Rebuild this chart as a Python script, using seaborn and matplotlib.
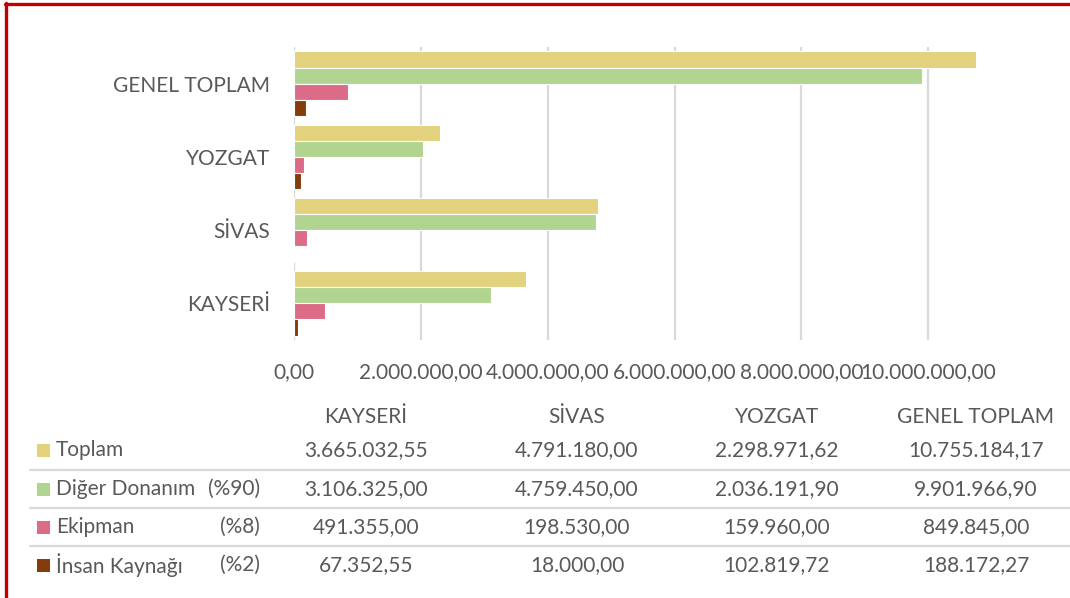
import pandas as pd
import seaborn as sns
import matplotlib.pyplot as plt
from matplotlib.lines import Line2D
from matplotlib.patches import Rectangle

bolgeler = ["KAYSERİ", "SİVAS", "YOZGAT", "GENEL TOPLAM"]
seriler = ["Toplam", "Diğer Donanım", "Ekipman", "İnsan Kaynağı"]
oranlar = ["", "(%90)", "(%8)", "(%2)"]
toplam = [3665032.55, 4791180.00, 2298971.62, 10755184.17]
diger_donanim = [3106325.00, 4759450.00, 2036191.90, 9901966.90]
ekipman = [491355.00, 198530.00, 159960.00, 849845.00]
insan_kaynagi = [67352.55, 18000.00, 102819.72, 188172.27]
x_ticks = [0, 2000000, 4000000, 6000000, 8000000, 10000000]

renkler = ["#E2D17D", "#B1D590", "#DC6B87", "#843C0C"]
yazi_rengi = "#595959"
cizgi_rengi = "#D9D9D9"

sns.set_theme(style="white")
plt.rcParams["font.family"] = ["Lato", "DejaVu Sans"]


def tr_format(v):
    # 1234567.5 -> 1.234.567,50
    s = f"{v:,.2f}"
    return s.replace(",", "#").replace(".", ",").replace("#", ".")


# long form table for seaborn
degerler = [toplam, diger_donanim, ekipman, insan_kaynagi]
rows = []
for seri, vals in zip(seriler, degerler):
    for b, v in zip(bolgeler, vals):
        rows.append({"bolge": b, "seri": seri, "deger": v})
df = pd.DataFrame(rows)

W, H = 1070, 598
fig = plt.figure(figsize=(W / 100, H / 100), dpi=100)


def fx(px):
    return px / W


def fy(py):
    return 1 - py / H


ax = fig.add_axes([fx(294), fy(340), fx(1055) - fx(294), fy(47) - fy(340)])

sns.barplot(data=df, x="deger", y="bolge", hue="seri", orient="h",
            order=bolgeler[::-1], hue_order=seriler, palette=renkler,
            saturation=1, width=0.88, edgecolor="white", linewidth=0.8,
            legend=False, ax=ax)

ax.set_xlim(0, 12000000)
ax.set_xticks(x_ticks)
ax.set_xticklabels([tr_format(t) for t in x_ticks])
ax.xaxis.grid(True, color=cizgi_rengi, linewidth=1.6)
ax.set_axisbelow(True)
for s in ax.spines.values():
    s.set_visible(False)
ax.tick_params(axis="x", length=0, pad=16, labelsize=15, labelcolor=yazi_rengi)
ax.tick_params(axis="y", length=0, pad=17, labelsize=15, labelcolor=yazi_rengi)
ax.set_xlabel("")
ax.set_ylabel("")

# data table below the chart
kolon_x = [366, 577, 777, 976]
satir_y = [450, 489, 527, 565]
for b, cx in zip(bolgeler, kolon_x):
    fig.text(fx(cx), fy(417), b, ha="center", va="center", fontsize=15, color=yazi_rengi)

for i, (seri, oran, vals) in enumerate(zip(seriler, oranlar, degerler)):
    y = satir_y[i]
    fig.add_artist(Rectangle((fx(37), fy(y + 6.5)), fx(13), 13 / H,
                             facecolor=renkler[i], edgecolor="none",
                             transform=fig.transFigure))
    fig.text(fx(56), fy(y), seri, ha="left", va="center", fontsize=15, color=yazi_rengi)
    if oran:
        fig.text(fx(260), fy(y), oran, ha="right", va="center", fontsize=15, color=yazi_rengi)
    for v, cx in zip(vals, kolon_x):
        fig.text(fx(cx), fy(y), tr_format(v), ha="center", va="center",
                 fontsize=15, color=yazi_rengi)

for ly in [470, 508, 546]:
    fig.add_artist(Line2D([fx(30), 1], [fy(ly), fy(ly)], color=cizgi_rengi,
                          linewidth=1.6, transform=fig.transFigure))

# red frame on top and left
fig.add_artist(Line2D([fx(5), 1], [fy(4), fy(4)], color="#C00000",
                      linewidth=2.4, transform=fig.transFigure))
fig.add_artist(Line2D([fx(6), fx(6)], [fy(3), 0], color="#C00000",
                      linewidth=2.4, transform=fig.transFigure))

fig.savefig("out.png", dpi=100)
